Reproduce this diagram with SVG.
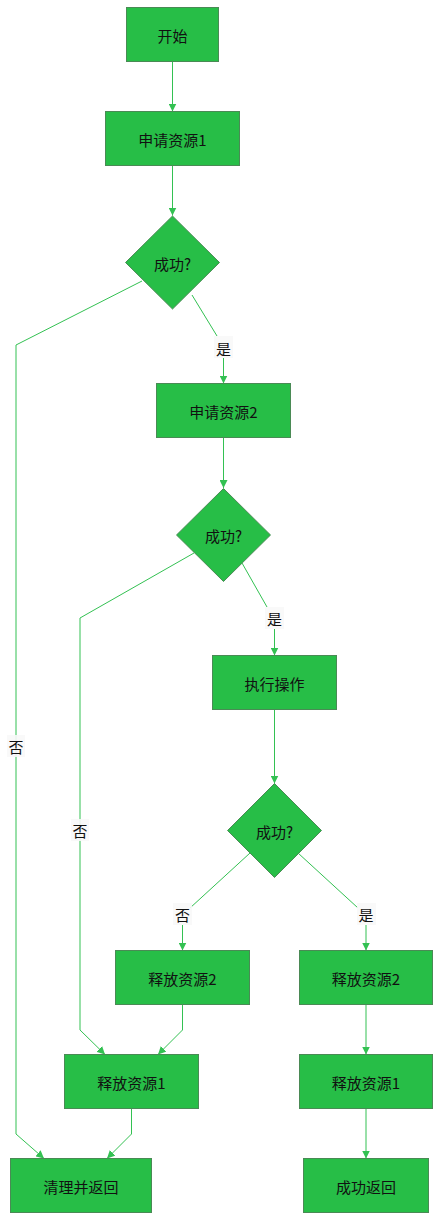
<svg xmlns="http://www.w3.org/2000/svg" width="441" height="1221" viewBox="0 0 441 1221">
<style>
.n{fill:#27be47;stroke:#4a8a55;stroke-width:1}
.t{font-family:"Noto Sans CJK SC","Liberation Sans",sans-serif;font-size:15px;fill:#111;text-anchor:middle;dominant-baseline:central}
.e{fill:none;stroke:#33c152;stroke-width:1}
.lb{fill:#f8f8f8;opacity:0.9}
</style>
<defs>
<marker id="ah" viewBox="0 0 10 10" refX="10" refY="5" markerWidth="8" markerHeight="8" markerUnits="userSpaceOnUse" orient="auto">
<path d="M0,0 L10,5 L0,10 z" fill="#33c152"/>
</marker>
</defs>
<rect width="441" height="1221" fill="#ffffff"/>
<g id="connectors">
<path class="e" marker-end="url(#ah)" d="M172.5,62 L172.5,111.5"/>
<path class="e" marker-end="url(#ah)" d="M172.5,166 L172.5,215.5"/>
<path class="e" d="M142,281 L16,345 L16,1134"/>
<path class="e" marker-end="url(#ah)" d="M16,1134 L44,1158.5"/>
<path class="e" d="M192,295 L217,336"/>
<path class="e" marker-end="url(#ah)" d="M223.5,358 L223.5,383.5"/>
<path class="e" marker-end="url(#ah)" d="M223.5,438 L223.5,488"/>
<path class="e" d="M194,553 L80,618 L80,1030"/>
<path class="e" marker-end="url(#ah)" d="M80,1030 L105,1054.5"/>
<path class="e" d="M242,563 L267,607"/>
<path class="e" marker-end="url(#ah)" d="M274.5,629 L274.5,655.5"/>
<path class="e" marker-end="url(#ah)" d="M274.5,710 L274.5,783.5"/>
<path class="e" d="M250,853 L190,908"/>
<path class="e" marker-end="url(#ah)" d="M182.5,925 L182.5,950.5"/>
<path class="e" d="M298,853 L358,908"/>
<path class="e" marker-end="url(#ah)" d="M366,925 L366,950.5"/>
<path class="e" d="M182.5,1005 L182.5,1030"/>
<path class="e" marker-end="url(#ah)" d="M182.5,1030 L158,1054.5"/>
<path class="e" marker-end="url(#ah)" d="M366,1005 L366,1054.5"/>
<path class="e" d="M131.5,1109 L131.5,1134"/>
<path class="e" marker-end="url(#ah)" d="M131.5,1134 L107,1158.5"/>
<path class="e" marker-end="url(#ah)" d="M366,1109 L366,1158.5"/>
<rect class="lb" x="214" y="336" width="19" height="22"/>
<text class="t" x="223.5" y="348">是</text>
<rect class="lb" x="265" y="607" width="19" height="22"/>
<text class="t" x="274.5" y="618">是</text>
<rect class="lb" x="7" y="735" width="18" height="22"/>
<text class="t" x="16" y="746">否</text>
<rect class="lb" x="71" y="819" width="18" height="22"/>
<text class="t" x="80" y="830">否</text>
<rect class="lb" x="173" y="903" width="19" height="22"/>
<text class="t" x="182.5" y="914">否</text>
<rect class="lb" x="357" y="903" width="19" height="22"/>
<text class="t" x="366" y="914">是</text>
</g>
<g id="start"><rect class="n" x="126.5" y="7.5" width="92" height="54"/><text class="t" x="172.5" y="35">开始</text></g>
<g id="req1"><rect class="n" x="105.5" y="111.5" width="134" height="54"/><text class="t" x="172.5" y="139">申请资源1</text></g>
<g id="dec1"><polygon class="n" points="172.5,216 219.5,262.5 172.5,309 125.5,262.5"/><text class="t" x="172.5" y="263">成功?</text></g>
<g id="req2"><rect class="n" x="156.5" y="383.5" width="134" height="54"/><text class="t" x="223.5" y="411">申请资源2</text></g>
<g id="dec2"><polygon class="n" points="223.5,488.5 270.5,535 223.5,581.5 176.5,535"/><text class="t" x="223.5" y="535">成功?</text></g>
<g id="exec"><rect class="n" x="212.5" y="655.5" width="124" height="54"/><text class="t" x="274.5" y="683">执行操作</text></g>
<g id="dec3"><polygon class="n" points="274.5,783.5 321.5,830.5 274.5,877.5 227.5,830.5"/><text class="t" x="274.5" y="831">成功?</text></g>
<g id="rel2a"><rect class="n" x="115.5" y="950.5" width="134" height="54"/><text class="t" x="182.5" y="978">释放资源2</text></g>
<g id="rel2b"><rect class="n" x="299.5" y="950.5" width="133" height="54"/><text class="t" x="366" y="978">释放资源2</text></g>
<g id="rel1a"><rect class="n" x="64.5" y="1054.5" width="134" height="54"/><text class="t" x="131.5" y="1082">释放资源1</text></g>
<g id="rel1b"><rect class="n" x="299.5" y="1054.5" width="133" height="54"/><text class="t" x="366" y="1082">释放资源1</text></g>
<g id="cleanup"><rect class="n" x="10.5" y="1158.5" width="141" height="54"/><text class="t" x="81" y="1186">清理并返回</text></g>
<g id="ok"><rect class="n" x="303.5" y="1158.5" width="125" height="54"/><text class="t" x="366" y="1186">成功返回</text></g>
</svg>
